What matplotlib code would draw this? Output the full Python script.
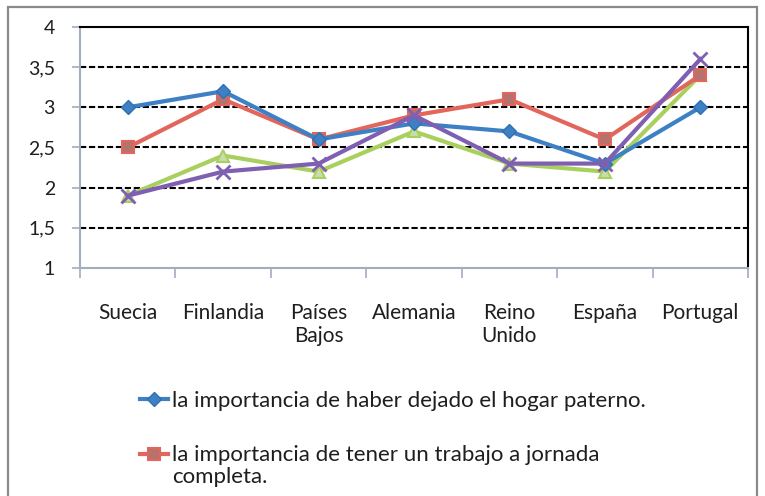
import numpy as np
import matplotlib
matplotlib.use("Agg")
import matplotlib.pyplot as plt
from matplotlib.patches import Rectangle

plt.rcParams['font.family'] = ['Lato', 'DejaVu Sans']

# datos
paises = ['Suecia', 'Finlandia', 'Países\nBajos', 'Alemania', 'Reino\nUnido', 'España', 'Portugal']
hogar = [3.0, 3.2, 2.6, 2.8, 2.7, 2.3, 3.0]
trabajo = [2.5, 3.1, 2.6, 2.9, 3.1, 2.6, 3.4]
verde = [1.9, 2.4, 2.2, 2.7, 2.3, 2.2, 3.4]
morado = [1.9, 2.2, 2.3, 2.9, 2.3, 2.3, 3.6]
yticks = [1, 1.5, 2, 2.5, 3, 3.5, 4]
ylabels = ['1', '1,5', '2', '2,5', '3', '3,5', '4']
leyenda = ['la importancia de haber dejado el hogar paterno.',
           'la importancia de tener un trabajo a jornada']
resto = 'completa.'

W, H = 765, 496
fig = plt.figure(figsize=(W / 100, H / 100), dpi=100)

# marco exterior
fig.patches.append(Rectangle((8 / W, -0.1), (757 - 8) / W, 1.1 - 7 / H,
                             transform=fig.transFigure, fill=False,
                             edgecolor='#8a8a8a', linewidth=1.6))

ax = fig.add_axes([80 / W, 1 - 268 / H, (748 - 80) / W, (268 - 27) / H])

x = np.arange(len(paises))
l1, = ax.plot(x, hogar, color='#3d80c4', lw=3, marker='D', ms=7.5,
              mfc='#3d80c4', mec='#3070b0', zorder=5)
l2, = ax.plot(x, trabajo, color='#e2665c', lw=3, marker='s', ms=9,
              mfc='#b8726c', mec='#e2665c', mew=1.5, zorder=4)
l3, = ax.plot(x, verde, color='#a9d05f', lw=3, marker='^', ms=9,
              mfc='#c9dcae', mec='#a9d05f', mew=1.5, zorder=3)
l4, = ax.plot(x, morado, color='#7e5fb2', lw=3, marker='x', ms=10,
              mew=2, zorder=6)

ax.set_xlim(-0.5, len(paises) - 0.5)
ax.set_ylim(1, 4)
ax.set_yticks(yticks)
ax.set_yticklabels(ylabels, fontsize=14, color='#1e1e1e')
ax.set_xticks(x)
ax.set_xticklabels(paises, fontsize=15, color='#1e1e1e', linespacing=1.2)
ax.set_xticks(np.arange(len(paises) + 1) - 0.5, minor=True)
ax.tick_params(axis='x', which='major', length=0, pad=25)
ax.tick_params(axis='x', which='minor', length=7, width=1.2, color='#a0aec0')
ax.tick_params(axis='y', length=6, width=1.2, color='#a0aec0', pad=12)

for v in yticks[1:-1]:
    ax.axhline(v, color='black', lw=1.5, ls=(0, (3, 1.3)), zorder=1)

ax.spines['left'].set_color('#a0aec0')
ax.spines['bottom'].set_color('#a0aec0')
ax.spines['top'].set_color('black')
ax.spines['right'].set_color('black')
for s in ax.spines.values():
    s.set_linewidth(1.5)

leg = fig.legend([l1, l2], leyenda, loc='upper left',
                 bbox_to_anchor=(140 / W, 1 - 391 / H), frameon=False,
                 fontsize=16, borderpad=0, borderaxespad=0,
                 handlelength=1.25, handletextpad=0.2, labelspacing=1.55)
for t in leg.get_texts():
    t.set_color('#1e1e1e')

fig.canvas.draw()
bb = leg.get_texts()[1].get_window_extent()
fig.text(bb.x0 / W, (bb.y0 + bb.y1) / 2 / H - 22 / H, resto,
         fontsize=16, color='#1e1e1e', va='center', ha='left')

fig.savefig('out.png', dpi=100)
